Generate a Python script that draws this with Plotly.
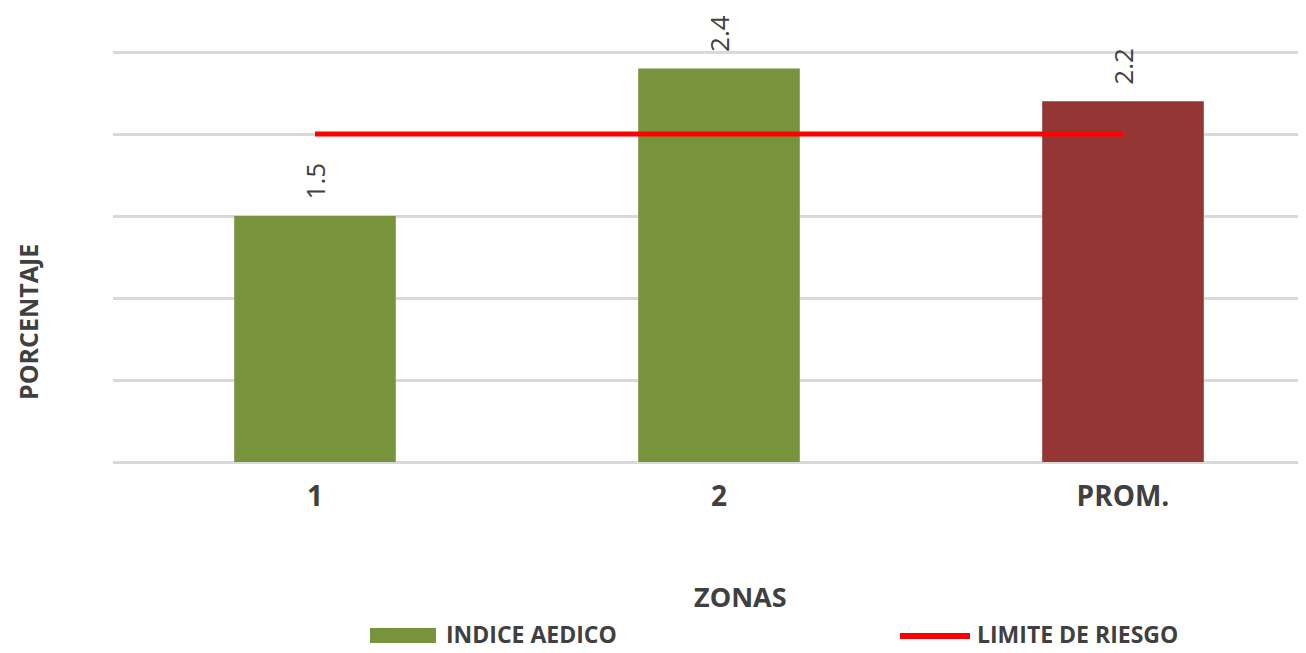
import plotly.graph_objects as go

zonas = ["1", "2", "PROM."]
indice_aedico = [1.5, 2.4, 2.2]
bar_colors = ["#77933c", "#77933c", "#943634"]
limite_riesgo = [2.0, 2.0, 2.0]

FONT = "Open Sans"
TXT = "#404040"
GAP = "\u00a0\u00a0"  # pushes the rotated value labels off the bar tops

# page offset of 8px (body margin) is folded into the margins below
L, T, B = 105, 41, 191
PW, PH = 1193, 645 - T - B
YTOP = PH / 164.0  # 164 px per unit, as in the reference


def px(xp):
    return (xp - 113) / PW


def py(yp):
    return (462 - yp) / PH


fig = go.Figure()
fig.add_trace(go.Bar(
    x=zonas, y=indice_aedico, width=0.4,
    marker=dict(color=bar_colors, line=dict(width=0)),
    text=[GAP + f"{v:.1f}" for v in indice_aedico],
    textposition="outside", textangle=-90,
    textfont=dict(family=FONT, size=26, color=TXT),
    cliponaxis=False, name="INDICE AEDICO", showlegend=False,
))
fig.add_trace(go.Scatter(
    x=zonas, y=limite_riesgo, mode="lines",
    line=dict(color="#ff0000", width=5),
    name="LIMITE DE RIESGO", showlegend=False,
))

# legend drawn by hand to get the wide Excel-style swatches
fig.add_shape(type="rect", xref="paper", yref="paper",
              x0=px(370), x1=px(436), y0=py(643), y1=py(628),
              fillcolor="#77933c", line=dict(width=0))
fig.add_shape(type="line", xref="paper", yref="paper",
              x0=px(900), x1=px(970), y0=py(636), y1=py(636),
              line=dict(color="#ff0000", width=6))
fig.add_annotation(text="<b>INDICE AEDICO</b>", xref="paper", yref="paper",
                   x=px(444), y=py(652), xanchor="left", yanchor="bottom",
                   showarrow=False, font=dict(family=FONT, size=23, color=TXT))
fig.add_annotation(text="<b>LIMITE DE RIESGO</b>", xref="paper", yref="paper",
                   x=px(975), y=py(652), xanchor="left", yanchor="bottom",
                   showarrow=False, font=dict(family=FONT, size=23, color=TXT))

# axis titles
fig.add_annotation(text="<b>ZONAS</b>", xref="paper", yref="paper",
                   x=px(740), y=py(596), xanchor="center", yanchor="middle",
                   showarrow=False, font=dict(family=FONT, size=27, color=TXT))
fig.add_annotation(text="<b>PORCENTAJE</b>", xref="paper", yref="paper",
                   x=px(28), y=py(322), xanchor="center", yanchor="middle",
                   textangle=-90, showarrow=False,
                   font=dict(family=FONT, size=25, color=TXT))

fig.update_layout(
    width=1298, height=645,
    margin=dict(l=L, r=0, t=T, b=B),
    paper_bgcolor="white", plot_bgcolor="white",
    showlegend=False,
    xaxis=dict(
        range=[-0.5, 2.453], showgrid=False, zeroline=False, showline=False,
        tickfont=dict(family=FONT, size=28, color=TXT), ticks="",
        tickprefix="<b>", ticksuffix="</b>", ticklabelstandoff=15,
    ),
    yaxis=dict(
        range=[0, YTOP], dtick=0.5, showticklabels=False, ticks="",
        showgrid=True, gridcolor="#d9d9d9", gridwidth=2.5,
        zeroline=True, zerolinecolor="#d9d9d9", zerolinewidth=2.5,
    ),
)

fig.write_html("out.html")
